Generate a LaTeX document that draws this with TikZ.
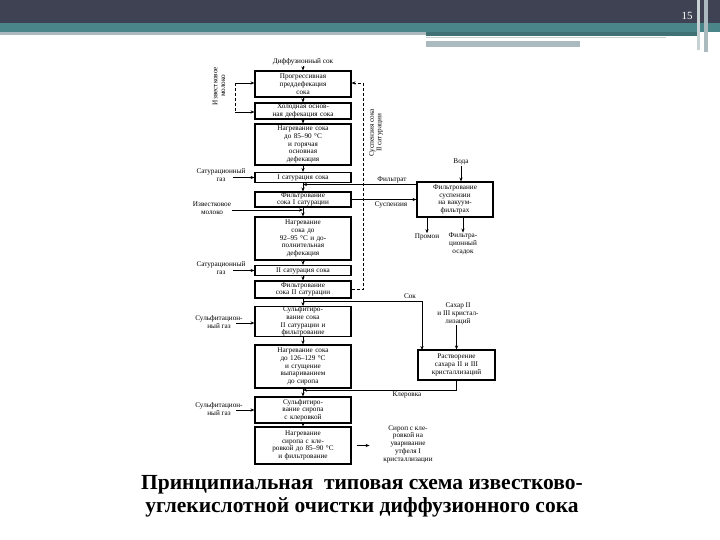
\documentclass[tikz,border=0pt]{standalone}
\usepackage{fontspec}
\setmainfont{Liberation Serif}
\usetikzlibrary{arrows.meta}
\definecolor{hdrdark}{RGB}{62,66,82}
\definecolor{hdrteal}{RGB}{74,133,138}
\definecolor{hdrgrey}{RGB}{170,186,190}
\definecolor{hdrlight}{RGB}{200,210,212}
\begin{document}
\begin{tikzpicture}[x=1pt,y=-1pt,
  box/.style={draw, line width=1.1pt, align=center, inner sep=0pt, text width=#1,
    font=\fontsize{7.2}{7.7}\selectfont},
  box/.default=94pt,
  lbl/.style={align=center, inner sep=0.5pt, font=\fontsize{7.2}{7.7}\selectfont},
  arr/.style={-{Stealth[length=4pt,width=3.2pt]}, line width=0.9pt},
  dsh/.style={line width=0.9pt, dash pattern=on 3pt off 2pt},
]
\useasboundingbox (0,0) rectangle (720,540);
% header
\fill[hdrdark] (0,0) rectangle (720,23);
\fill[hdrteal] (0,23) rectangle (720,32);
\fill[hdrgrey] (0,32) rectangle (426,35);
\fill[hdrteal!85!black] (426,32) rectangle (698,36);
\fill[hdrlight] (426,37) rectangle (666,38.5);
\fill[hdrgrey] (426,41) rectangle (580,47);
\fill[hdrlight] (697,0) rectangle (700,50);
\fill[hdrgrey] (704,0) rectangle (708,52);
\node[text=white, font=\fontsize{11}{12}\selectfont] (pg) at (687,16) {15};

% main column
\node[lbl] (ds) at (303,62) {Диффузионный сок};
\node[box, minimum width=96pt, minimum height=26pt] (b2) at (303,84) {Прогрессивная\\преддефекация\\сока};
\node[box, minimum width=96pt, minimum height=16pt] (b3) at (303,111) {Холодная основ-\\ная дефекация сока};
\node[box, minimum width=96pt, minimum height=41pt] (b4) at (303,144.5) {Нагревание сока\\до 85--90 °С\\и горячая\\основная\\дефекация};
\node[box, minimum width=96pt, minimum height=10pt] (b5) at (303,177.5) {I сатурация сока};
\node[box, minimum width=96pt, minimum height=15pt] (b6) at (303,199.5) {Фильтрование\\сока I сатурации};
\node[box, minimum width=96pt, minimum height=43pt] (b7) at (303,238.5) {Нагревание\\сока до\\92--95 °С и до-\\полнительная\\дефекация};
\node[box, minimum width=96pt, minimum height=10pt] (b8) at (303,270.5) {II сатурация сока};
\node[box, minimum width=96pt, minimum height=17pt] (b9) at (303,289.5) {Фильтрование\\сока II сатурации};
\node[box, minimum width=96pt, minimum height=29pt] (b10) at (303,321.5) {Сульфитиро-\\вание сока\\II сатурации и\\фильтрование};
\node[box, minimum width=96pt, minimum height=43pt] (b11) at (303,366.5) {Нагревание сока\\до 126--129 °С\\и сгущение\\выпариванием\\до сиропа};
\node[box, minimum width=96pt, minimum height=26pt] (b12) at (303,410) {Сульфитиро-\\вание сиропа\\с клеровкой};
\node[box, minimum width=96pt, minimum height=37pt] (b13) at (303,445.5) {Нагревание\\сиропа с кле-\\ровкой до 85--90 °С\\и фильтрование};

\draw[arr] (ds) -- (b2);
\draw[arr] (b2) -- (b3);
\draw[arr] (b3) -- (b4);
\draw[arr] (b4) -- (b5);
\draw[arr] (b5) -- (b6);
\draw[arr] (b6) -- (b7);
\draw[arr] (b7) -- (b8);
\draw[arr] (b8) -- (b9);
\draw[arr] (b9) -- (b10);
\draw[arr] (b10) -- (b11);
\draw[arr] (b11) -- (b12);
\draw[arr] (b12) -- (b13);

% left inputs
\node[lbl, rotate=90] (im1) at (219,86) {Известковое\\молоко};
\coordinate (k1) at (235,83);
\coordinate (k2) at (235,112);
\draw[dsh] (k1) -- (k2);
\draw[arr] (k1) -- (k1 -| b2.west);
\draw[arr] (k2) -- (k2 -| b3.west);

\node[lbl] (sg1) at (221,175) {Сатурационный\\газ};
\coordinate (g1) at (233,177.5);
\draw[arr] (g1) -- (b5.west);
\node[lbl] (im2) at (212,208) {Известковое\\молоко};
\coordinate (j1) at (303,210);
\draw[arr] (im2.east |- j1) -- (j1);
\node[lbl] (sg2) at (221,268) {Сатурационный\\газ};
\coordinate (g2) at (233,270.5);
\draw[arr] (g2) -- (b8.west);
\node[lbl] (sf1) at (219,322) {Сульфитацион-\\ный газ};
\coordinate (s1) at (236,323);
\draw[arr] (s1) -- (s1 -| b10.west);
\node[lbl] (sf2) at (219,409) {Сульфитацион-\\ный газ};
\coordinate (s2) at (236,410);
\draw[arr] (s2) -- (b12.west);

% return suspension (dashed)
\coordinate (d1) at (363,289.5);
\coordinate (d2) at (363,83);
\draw[dsh, -{Stealth[length=4pt,width=3.2pt]}] (b9.east) -- (d1) -- (d2) -- (d2 -| b2.east);
\node[lbl, rotate=90] (sus) at (376,133) {Суспензия сока\\II сатурации};

% filtration of suspension
\node[box=74pt, minimum width=76pt, minimum height=35pt] (fv) at (455,199.5) {Фильтрование\\суспензии\\на вакуум-\\фильтрах};
\node[lbl] (voda) at (461,162) {Вода};
\draw[arr] (voda) -- (voda |- fv.north);
\coordinate (j2) at (303,184.5);
\draw[arr] (fv.west |- j2) -- (j2);
\node[lbl] (filt) at (392,180) {Фильтрат};
\draw[arr] (b6.east) -- (b6.east -| fv.west);
\node[lbl] (susp) at (391,205) {Суспензия};
\node[lbl] (prom) at (427,237) {Промои};
\draw[arr] (prom |- fv.south) -- (prom.north);
\node[lbl] (osad) at (463,244) {Фильтра-\\ционный\\осадок};
\draw[arr] (osad |- fv.south) -- (osad.north);

% dissolution of sugar
\node[box=74pt, minimum width=77pt, minimum height=30pt] (rs) at (456.5,365) {Растворение\\сахара II и III\\кристаллизаций};
\coordinate (j3) at (303,301);
\coordinate (c1) at (422,350);
\draw[arr] (j3) -| (c1);
\node[lbl] (sok) at (410,296) {Сок};
\node[lbl] (sah) at (458,314) {Сахар II\\и III кристал-\\лизаций};
\draw[arr] (sah.south -| rs.north) -- (rs.north);
\coordinate (j4) at (303,390);
\draw[arr] (rs.south) |- (j4);
\node[lbl] (kler) at (407,395) {Клеровка};

% output
\node[lbl] (out) at (408,444) {Сироп с кле-\\ровкой на\\уваривание\\утфеля I\\кристаллизации};
\draw[arr] ([xshift=5pt]b13.east) -- ([xshift=18pt]b13.east);

% caption
\node[font=\bfseries\fontsize{21.5}{23}\selectfont, align=center] (cap) at (362,496) {Принципиальная\ \ типовая схема известково-\\углекислотной очистки диффузионного сока};
\end{tikzpicture}
\end{document}
